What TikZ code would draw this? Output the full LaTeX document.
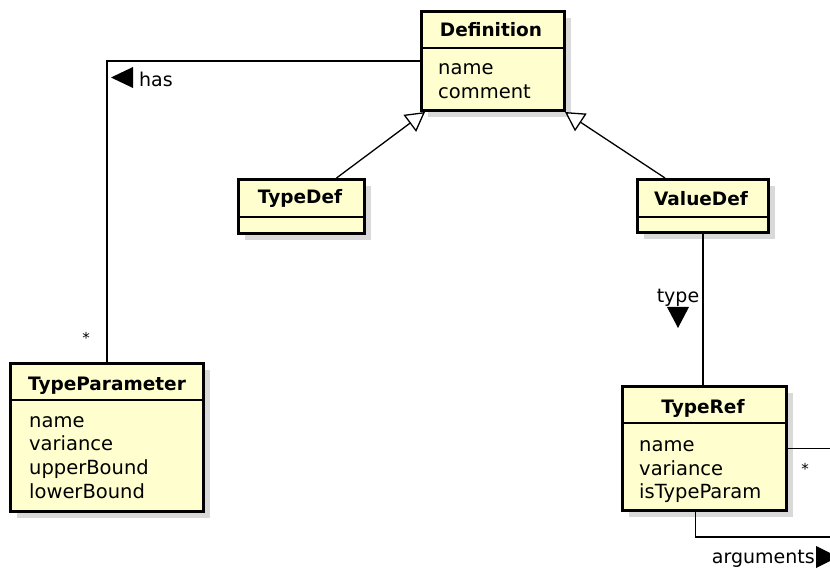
\documentclass[tikz,border=0pt]{standalone}
\usepackage{fontspec}
\setmainfont{DejaVu Sans}
\usetikzlibrary{arrows.meta,calc}
\definecolor{classfill}{HTML}{FEFECE}
\definecolor{shadowc}{HTML}{D9D9D9}
\tikzset{
  classbox/.style={draw=black, line width=3pt, fill=classfill, inner sep=0pt, anchor=north west},
  sepline/.style={draw=black, line width=1.3pt},
  shadowbox/.style={fill=shadowc},
  titletext/.style={font=\fontsize{18.5}{22}\selectfont\bfseries, inner sep=0pt, anchor=base},
  attrtext/.style={font=\fontsize{19.5}{22}\selectfont, inner sep=0pt, anchor=base west},
  lbl/.style={font=\fontsize{19}{22}\selectfont, inner sep=0pt},
  multlbl/.style={font=\fontsize{15}{15}\selectfont, inner sep=0pt},
  conn/.style={draw=black, line width=1.3pt},
  gen/.style={conn, -{Triangle[length=19pt, width=21pt, fill=white, line width=1.3pt]}},
}
\newcommand\umlbox[6]{%
  \fill[shadowbox] (#2+8,#3+8) rectangle ++(#4,#5);
  \node[classbox, minimum width=#4pt, minimum height=#5pt] (#1) at (#2,#3) {};
  \draw[sepline] ($(#1.north west)+(0,#6)$) -- ($(#1.north east)+(0,#6)$);
}
\begin{document}
\begin{tikzpicture}[x=1pt,y=-1pt]
\useasboundingbox (0,0) rectangle (830,569);
\clip (0,0) rectangle (830,569);

% classes
\umlbox{def}{420}{10}{143}{99}{38}
\umlbox{td}{237}{178}{126}{54}{39}
\umlbox{vd}{636}{178}{131}{53}{39}
\umlbox{tp}{9}{362}{193}{148}{38}
\umlbox{tr}{621}{385}{164}{124}{38}

% titles
\node[titletext] (deft) at (491,37) {Definition};
\node[titletext] (tdt) at (300,204) {TypeDef};
\node[titletext] (vdt) at (701,206) {ValueDef};
\node[titletext] (tpt) at (107,390) {TypeParameter};
\node[titletext] (trt) at (703,413) {TypeRef};

% attributes
\node[attrtext] (defa1) at (438,75) {name};
\node[attrtext] (defa2) at (438,99) {comment};
\node[attrtext] (tpa1) at (29,427) {name};
\node[attrtext] (tpa2) at (29,450) {variance};
\node[attrtext] (tpa3) at (29,474) {upperBound};
\node[attrtext] (tpa4) at (29,498) {lowerBound};
\node[attrtext] (tra1) at (639,451) {name};
\node[attrtext] (tra2) at (639,475) {variance};
\node[attrtext] (tra3) at (639,498) {isTypeParam};

% connectors
\draw[conn] (def.west) -| (tp.north);
\draw[gen] ($(td.north)+(35,0)$) -- ($(def.south west)+(5,0)$);
\draw[gen] ($(vd.north)+(-38,0)$) -- ($(def.south east)+(-1,0)$);
\draw[conn] (vd.south) -- (vd.south |- tr.north);
\coordinate (rend) at (832,447);
\draw[conn] (tr.east) -- (tr.east -| rend);
\coordinate (aend) at (832,537);
\draw[conn] ($(tr.south)+(-9,0)$) |- (aend);

% labels
\node[lbl, anchor=base west] (haslbl) at (139,87) {has};
\fill (111,77.5) -- (133,67) -- (133,88) -- cycle;
\node[multlbl] (tpmult) at (86,338) {*};
\node[lbl, anchor=base] (typelbl) at (678,303) {type};
\fill (667,307) -- (689,307) -- (678,328) -- cycle;
\node[multlbl] (trmult) at (805,469) {*};
\node[lbl, anchor=base east] (arglbl) at (815,563) {arguments};
\fill (816,546) -- (816,568) -- (838,557) -- cycle;
\end{tikzpicture}
\end{document}
